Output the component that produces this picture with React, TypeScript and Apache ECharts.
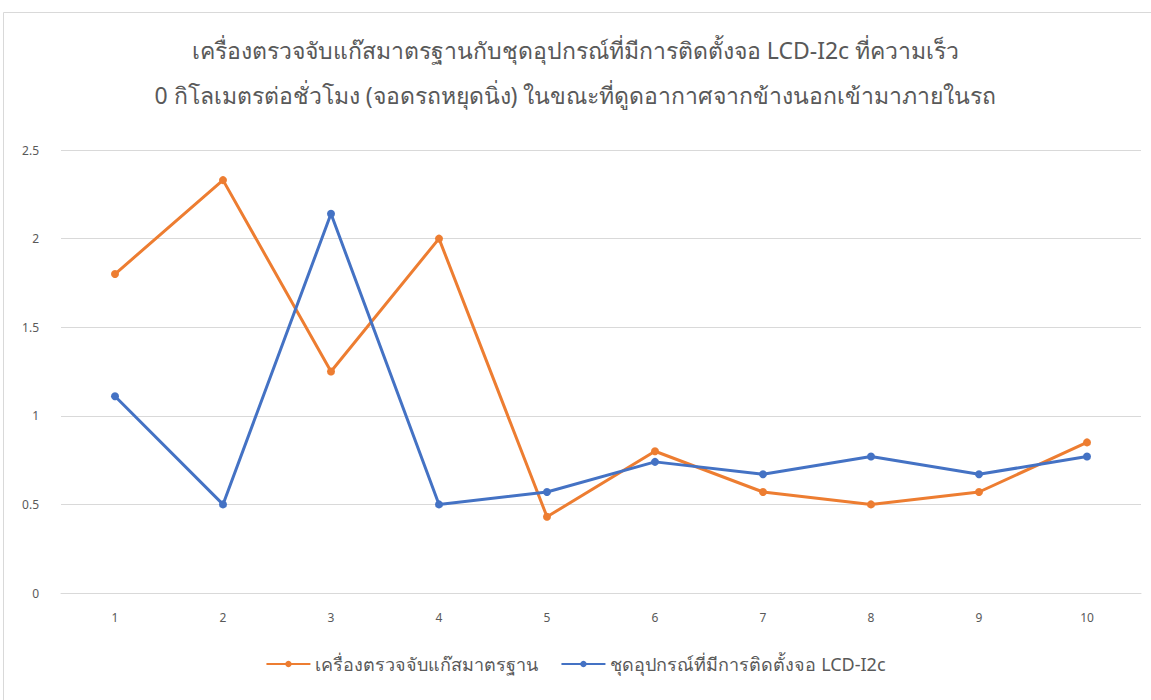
import React, { useEffect, useRef } from "react";
import * as echarts from "echarts";

const categories = ["1", "2", "3", "4", "5", "6", "7", "8", "9", "10"];
const standardMeter = [1.8, 2.33, 1.25, 2.0, 0.43, 0.8, 0.57, 0.5, 0.57, 0.85];
const lcdDevice = [1.11, 0.5, 2.14, 0.5, 0.57, 0.74, 0.67, 0.77, 0.67, 0.77];
const seriesNames = ["เครื่องตรวจจับแก๊สมาตรฐาน", "ชุดอุปกรณ์ที่มีการติดตั้งจอ LCD-I2c"];
const titleLines = [
  "เครื่องตรวจจับแก๊สมาตรฐานกับชุดอุปกรณ์ที่มีการติดตั้งจอ LCD-I2c ที่ความเร็ว",
  "0 กิโลเมตรต่อชั่วโมง (จอดรถหยุดนิ่ง) ในขณะที่ดูดอากาศจากข้างนอกเข้ามาภายในรถ",
];

const FONT = "'Noto Sans', 'DejaVu Sans', sans-serif";

export default function App() {
  const ref = useRef<HTMLDivElement>(null);

  useEffect(() => {
    if (!ref.current) return;
    const chart = echarts.init(ref.current, undefined, { renderer: "svg" });
    chart.setOption({
      animation: false,
      backgroundColor: "#ffffff",
      textStyle: { fontFamily: FONT },
      title: {
        text: titleLines.join("\n"),
        left: "center",
        top: 22,
        textStyle: {
          fontFamily: FONT,
          fontSize: 23,
          fontWeight: "normal",
          color: "#595959",
          lineHeight: 45,
        },
      },
      graphic: [
        {
          type: "rect",
          shape: { x: 3.5, y: 12.5, width: 1160, height: 700 },
          style: { fill: "none", stroke: "#d9d9d9", lineWidth: 1 },
          silent: true,
        },
      ],
      legend: {
        bottom: 22,
        left: "center",
        itemGap: 22,
        itemWidth: 44,
        itemHeight: 8,
        textStyle: { fontFamily: FONT, fontSize: 18, color: "#595959" },
        data: seriesNames,
      },
      grid: { left: 61, right: 10, top: 150, bottom: 107 },
      xAxis: {
        type: "category",
        data: categories,
        boundaryGap: true,
        axisLine: { lineStyle: { color: "#d9d9d9", width: 1 } },
        axisTick: { show: false },
        axisLabel: { color: "#595959", fontSize: 12, margin: 18, fontFamily: FONT },
      },
      yAxis: {
        type: "value",
        min: 0,
        max: 2.5,
        interval: 0.5,
        axisLine: { show: false },
        axisTick: { show: false },
        axisLabel: { color: "#595959", fontSize: 12, margin: 22, fontFamily: FONT },
        splitLine: { lineStyle: { color: "#d9d9d9", width: 1 } },
      },
      series: [
        {
          name: seriesNames[0],
          type: "line",
          data: standardMeter,
          color: "#ED7D31",
          symbol: "circle",
          symbolSize: 8,
          lineStyle: { width: 3, color: "#ED7D31" },
          itemStyle: { color: "#ED7D31" },
        },
        {
          name: seriesNames[1],
          type: "line",
          data: lcdDevice,
          color: "#4472C4",
          symbol: "circle",
          symbolSize: 8,
          lineStyle: { width: 3, color: "#4472C4" },
          itemStyle: { color: "#4472C4" },
        },
      ],
    });
    return () => chart.dispose();
  }, []);

  return (
    <div
      ref={ref}
      style={{ position: "absolute", left: 0, top: 0, width: 1151, height: 700 }}
    />
  );
}
